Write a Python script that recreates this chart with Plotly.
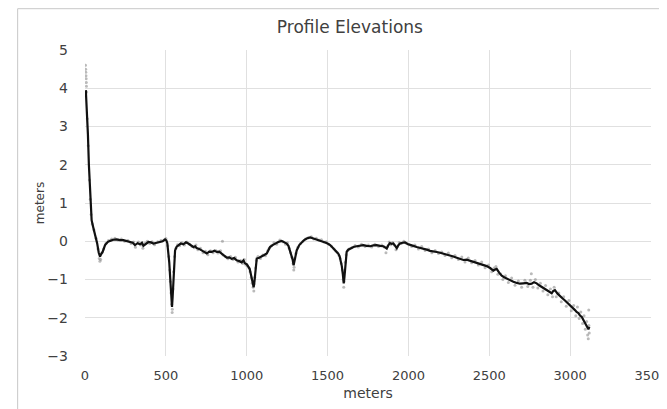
import plotly.graph_objects as go

# smoothed profile (black line)
line_x = [5, 12, 18, 24, 30, 35, 41, 50, 62, 75, 85, 93, 101, 109, 124, 140, 155, 175, 196, 216,
          237, 258, 278, 295, 309, 325, 340, 352, 361, 376, 392, 408, 423, 444, 464, 480, 495, 503, 509, 515,
          521, 526, 530, 534, 538, 542, 546, 551, 557, 567, 577, 592, 608, 624, 639, 655, 670, 681, 691, 706,
          722, 737, 753, 768, 784, 800, 815, 830, 845, 861, 876, 892, 907, 922, 938, 954, 969, 980, 990, 1000,
          1010, 1018, 1025, 1031, 1037, 1043, 1048, 1052, 1057, 1062, 1077, 1093, 1108, 1124, 1134, 1144, 1160, 1175, 1195, 1216,
          1232, 1247, 1258, 1268, 1276, 1284, 1290, 1295, 1299, 1309, 1325, 1340, 1355, 1371, 1392, 1408, 1423, 1438, 1454, 1470,
          1485, 1500, 1516, 1532, 1547, 1557, 1567, 1575, 1581, 1588, 1594, 1600, 1604, 1608, 1613, 1618, 1628, 1639, 1660, 1680,
          1700, 1721, 1742, 1763, 1783, 1804, 1825, 1845, 1856, 1866, 1876, 1886, 1897, 1907, 1918, 1928, 1938, 1948, 1964, 1979,
          1995, 2010, 2030, 2051, 2072, 2093, 2113, 2134, 2155, 2175, 2196, 2216, 2237, 2258, 2278, 2299, 2319, 2340, 2360, 2381,
          2402, 2422, 2443, 2463, 2484, 2505, 2525, 2536, 2546, 2561, 2577, 2592, 2608, 2628, 2649, 2670, 2690, 2710, 2731, 2746,
          2762, 2777, 2793, 2808, 2824, 2840, 2855, 2870, 2886, 2896, 2906, 2922, 2937, 2952, 2968, 2984, 2999, 3015, 3030, 3040,
          3051, 3061, 3072, 3082, 3090, 3099, 3106, 3113, 3119]
line_y = [3.95, 3.4, 2.8, 2.0, 1.4, 0.95, 0.55, 0.38, 0.2, -0.05, -0.3, -0.4, -0.33, -0.28, -0.1, -0.02, 0.01, 0.04, 0.05, 0.03,
          0.03, 0.0, -0.02, -0.04, -0.1, -0.05, -0.08, -0.04, -0.12, -0.07, -0.02, -0.03, -0.06, -0.04, -0.02, 0.0, 0.05, 0.02, -0.05, -0.25,
          -0.55, -0.9, -1.2, -1.5, -1.72, -1.45, -1.0, -0.55, -0.24, -0.14, -0.1, -0.06, -0.08, -0.03, -0.06, -0.1, -0.15, -0.13, -0.18, -0.2,
          -0.24, -0.28, -0.32, -0.27, -0.28, -0.25, -0.28, -0.27, -0.32, -0.38, -0.43, -0.42, -0.46, -0.44, -0.5, -0.52, -0.55, -0.5, -0.58, -0.6,
          -0.67, -0.72, -0.85, -1.0, -1.15, -1.2, -1.05, -0.85, -0.62, -0.45, -0.43, -0.4, -0.36, -0.32, -0.22, -0.15, -0.1, -0.06, -0.02, 0.01,
          -0.02, -0.06, -0.12, -0.24, -0.35, -0.48, -0.63, -0.52, -0.4, -0.24, -0.1, -0.02, 0.03, 0.07, 0.1, 0.08, 0.06, 0.05, 0.02, 0.0,
          -0.03, -0.06, -0.1, -0.17, -0.24, -0.28, -0.33, -0.4, -0.5, -0.65, -0.85, -1.1, -0.95, -0.67, -0.42, -0.28, -0.22, -0.19, -0.15, -0.13,
          -0.12, -0.1, -0.12, -0.13, -0.11, -0.1, -0.12, -0.13, -0.16, -0.19, -0.1, -0.05, -0.07, -0.06, -0.12, -0.18, -0.1, -0.06, -0.04, -0.03,
          -0.07, -0.1, -0.12, -0.15, -0.17, -0.19, -0.22, -0.25, -0.26, -0.28, -0.3, -0.32, -0.34, -0.37, -0.4, -0.43, -0.45, -0.49, -0.48, -0.51,
          -0.54, -0.56, -0.58, -0.62, -0.65, -0.7, -0.77, -0.74, -0.72, -0.82, -0.9, -0.94, -0.98, -1.02, -1.06, -1.09, -1.11, -1.1, -1.09, -1.12,
          -1.11, -1.07, -1.1, -1.15, -1.19, -1.24, -1.28, -1.32, -1.36, -1.3, -1.28, -1.37, -1.44, -1.49, -1.55, -1.61, -1.67, -1.73, -1.8, -1.85,
          -1.88, -1.94, -1.98, -2.06, -2.12, -2.2, -2.26, -2.3, -2.24]

# raw survey points (gray dots)
raw_x = [3, 4, 5, 6, 7, 8, 9, 10, 14, 20, 27, 33, 38, 45, 55, 68, 80, 88, 92, 97,
         105, 115, 130, 145, 165, 185, 205, 225, 245, 265, 285, 300, 312, 330, 345, 358, 370, 385, 400, 415,
         430, 450, 470, 488, 500, 512, 518, 524, 528, 532, 536, 539, 540, 544, 548, 554, 562, 572, 585, 600,
         615, 630, 647, 662, 676, 686, 698, 714, 730, 745, 760, 776, 792, 808, 822, 838, 850, 853, 868, 884,
         900, 915, 930, 946, 962, 975, 985, 995, 1005, 1014, 1021, 1028, 1034, 1040, 1044, 1046, 1050, 1055, 1060, 1070,
         1085, 1100, 1116, 1130, 1139, 1152, 1168, 1185, 1205, 1224, 1240, 1252, 1263, 1272, 1280, 1287, 1291, 1293, 1297, 1304,
         1316, 1332, 1348, 1363, 1380, 1400, 1415, 1430, 1446, 1462, 1478, 1492, 1508, 1524, 1540, 1552, 1562, 1571, 1578, 1585,
         1591, 1597, 1600, 1602, 1606, 1610, 1615, 1623, 1633, 1650, 1670, 1690, 1710, 1732, 1752, 1773, 1793, 1815, 1835, 1850,
         1861, 1871, 1881, 1891, 1902, 1912, 1923, 1933, 1943, 1956, 1972, 1987, 2003, 2020, 2040, 2062, 2082, 2103, 2124, 2145,
         2165, 2186, 2206, 2226, 2247, 2268, 2288, 2309, 2330, 2350, 2370, 2391, 2412, 2432, 2453, 2474, 2495, 2515, 2530, 2541,
         2553, 2569, 2584, 2600, 2618, 2638, 2659, 2680, 2700, 2720, 2738, 2754, 2760, 2770, 2785, 2800, 2816, 2832, 2848, 2862,
         2878, 2891, 2901, 2914, 2930, 2945, 2960, 2976, 2992, 3007, 3022, 3035, 3045, 3056, 3066, 3077, 3086, 3094, 3102, 3108,
         3112, 3115, 3116, 3118]
raw_y = [4.6, 4.5, 4.42, 4.33, 4.25, 4.15, 4.05, 3.9, 3.2, 2.5, 1.6, 1.1, 0.7, 0.45, 0.3, 0.08, -0.2, -0.45, -0.52, -0.48,
         -0.3, -0.2, -0.05, 0.02, 0.06, 0.08, 0.03, 0.06, 0.0, 0.02, -0.06, -0.02, -0.16, -0.02, -0.1, -0.18, -0.05, 0.0, -0.06, -0.01,
         -0.09, -0.01, 0.02, 0.03, 0.07, -0.12, -0.4, -0.75, -1.05, -1.35, -1.65, -1.86, -1.78, -1.25, -0.8, -0.4, -0.18, -0.09, -0.12, -0.04,
         -0.1, -0.02, -0.08, -0.14, -0.17, -0.1, -0.22, -0.18, -0.3, -0.26, -0.35, -0.25, -0.3, -0.24, -0.31, -0.25, 0.0, -0.36, -0.4, -0.46,
         -0.4, -0.48, -0.42, -0.54, -0.5, -0.58, -0.48, -0.62, -0.64, -0.7, -0.8, -0.95, -1.1, -1.2, -1.3, -1.12, -0.95, -0.7, -0.5, -0.4,
         -0.45, -0.36, -0.38, -0.25, -0.18, -0.12, -0.04, -0.08, 0.03, -0.01, -0.08, -0.04, -0.18, -0.3, -0.42, -0.58, -0.75, -0.68, -0.46, -0.32,
         -0.16, -0.06, 0.0, 0.06, 0.09, 0.12, 0.06, 0.08, 0.03, 0.04, -0.02, -0.01, -0.08, -0.13, -0.2, -0.26, -0.3, -0.37, -0.45, -0.58,
         -0.75, -1.0, -1.2, -1.05, -0.8, -0.55, -0.35, -0.25, -0.2, -0.17, -0.11, -0.15, -0.08, -0.14, -0.1, -0.15, -0.08, -0.14, -0.1, -0.15,
         -0.3, -0.14, -0.02, -0.09, -0.03, -0.1, -0.22, -0.14, -0.03, -0.06, 0.0, -0.05, -0.09, -0.14, -0.1, -0.2, -0.14, -0.24, -0.2, -0.3,
         -0.24, -0.32, -0.28, -0.37, -0.31, -0.43, -0.37, -0.48, -0.41, -0.54, -0.44, -0.56, -0.5, -0.62, -0.54, -0.69, -0.62, -0.8, -0.7, -0.66,
         -0.86, -0.85, -1.0, -0.9, -1.08, -0.96, -1.15, -1.04, -1.2, -1.02, -1.18, -1.02, -0.85, -1.2, -1.0, -1.22, -1.1, -1.3, -1.16, -1.4,
         -1.25, -1.45, -1.2, -1.45, -1.35, -1.58, -1.45, -1.7, -1.55, -1.82, -1.68, -1.95, -1.72, -2.02, -1.85, -2.15, -1.95, -2.3, -2.1, -2.45,
         -2.55, -1.8, -2.2, -2.4]

x_ticks = [0, 500, 1000, 1500, 2000, 2500, 3000, 3500]
y_ticks = [-3, -2, -1, 0, 1, 2, 3, 4, 5]

TXT = "#404040"
GRID = "#e0e0e0"
FONT = "DejaVu Sans"

fig = go.Figure()
fig.add_trace(go.Scatter(x=raw_x, y=raw_y, mode="markers",
                         marker=dict(size=3, color="rgba(140,140,140,0.6)"),
                         showlegend=False, hoverinfo="skip"))
fig.add_trace(go.Scatter(x=line_x, y=line_y, mode="lines",
                         line=dict(color="#111111", width=2.2),
                         showlegend=False))

# plot area: 566 x 306 px; left 77, top 42 inside a 659 x 401 figure
fig.update_layout(
    width=659, height=401,
    margin=dict(l=77, r=16, t=42, b=53, autoexpand=False),
    paper_bgcolor="white", plot_bgcolor="white",
    font=dict(family=FONT, color=TXT, size=12),
    title=dict(text="Profile Elevations", x=0.468, xref="paper", xanchor="center",
               y=1 - 19 / 401, yref="container", yanchor="middle",
               font=dict(size=17, color=TXT, family=FONT)),
    xaxis=dict(range=[0, 3500], tickvals=x_ticks, showgrid=True, gridcolor=GRID, gridwidth=1,
               zeroline=False, showline=False, ticks="", ticklabelstandoff=10, automargin=False,
               ticklabeloverflow="allow",
               tickfont=dict(size=13, color=TXT),
               title=dict(text="meters", font=dict(size=14, color=TXT), standoff=6)),
    yaxis=dict(range=[-3, 5], tickvals=y_ticks, showgrid=True, gridcolor=GRID, gridwidth=1,
               zeroline=False, showline=False, ticks="", ticklabelstandoff=16, automargin=False,
               tickfont=dict(size=14, color=TXT),
               title=dict(text="meters", font=dict(size=12, color=TXT), standoff=0)),
    shapes=[
        dict(type="rect", xref="paper", yref="paper", x0=-0.119, x1=1.2, y0=-0.3, y1=1.135,
             line=dict(color="#c8c8c8", width=1), fillcolor="rgba(0,0,0,0)", layer="above"),
    ],
)

fig.write_html("out.html")
